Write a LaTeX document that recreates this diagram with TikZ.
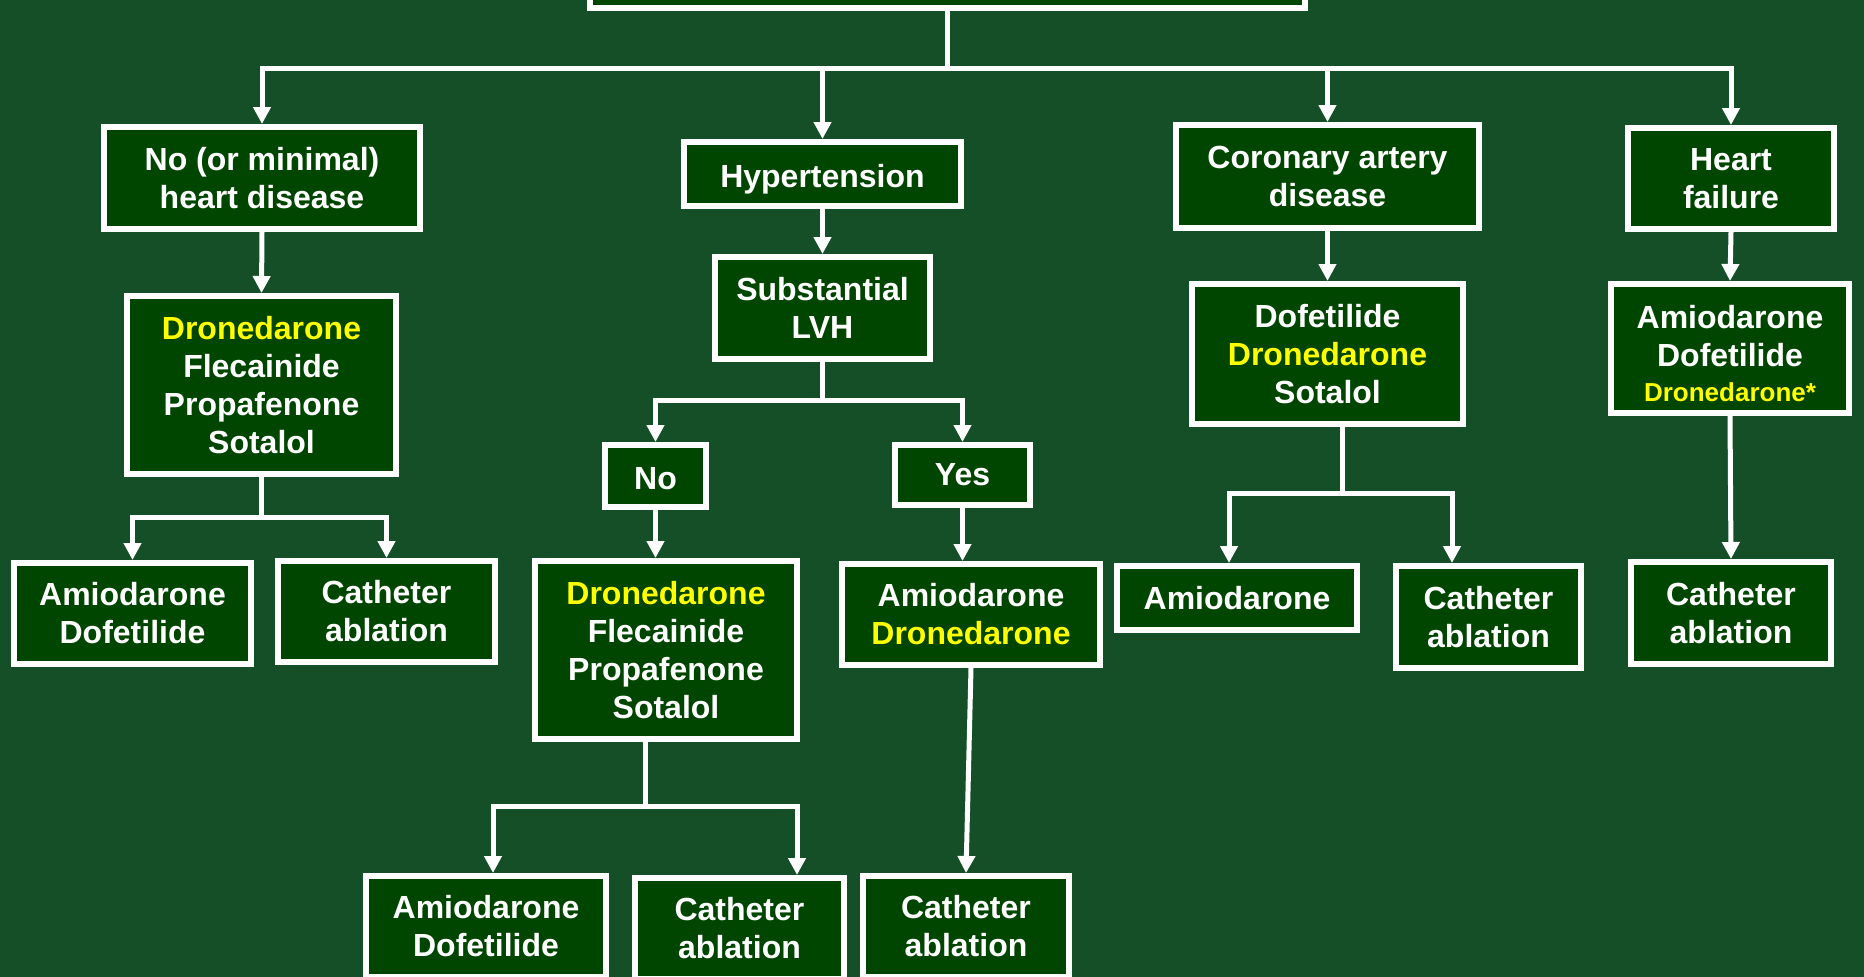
\documentclass[tikz,border=0pt]{standalone}
\usepackage{fontspec}
\setmainfont{Liberation Sans}
\usetikzlibrary{arrows.meta}
\definecolor{bg}{RGB}{20,79,40}
\definecolor{boxfill}{RGB}{0,70,0}
\definecolor{hl}{RGB}{255,255,0}
\tikzset{
  box/.style={draw=white, line width=6pt, fill=boxfill, text=white,
    font=\fontsize{32}{38}\selectfont\bfseries, align=center, inner sep=0pt},
  arr/.style={draw=white, line width=5pt, -{Triangle[width=17pt,length=17pt]}},
  ln/.style={draw=white, line width=5pt},
}
\begin{document}
\begin{tikzpicture}[x=1pt,y=-1pt]
\useasboundingbox (0,0) rectangle (1864,977);
\clip (0,0) rectangle (1864,977);
\fill[bg] (0,0) rectangle (1864,977);
% nodes
\node[box, minimum width=715pt, minimum height=96pt] (top) at (947.5,-40) {};
\node[box, minimum width=316pt, minimum height=102pt] (b1) at (262,178) {No (or minimal)\\heart disease};
\node[box, minimum width=277pt, minimum height=64pt] (hyp) at (822.5,174) {\rule{0pt}{33pt}Hypertension};
\node[box, minimum width=303pt, minimum height=103pt] (cad) at (1327.5,176.5) {Coronary artery\\disease};
\node[box, minimum width=206pt, minimum height=101pt] (hf) at (1731,178.5) {Heart\\failure};
\node[box, minimum width=269pt, minimum height=178pt] (d1) at (261.5,385) {\textcolor{hl}{Dronedarone}\\Flecainide\\Propafenone\\Sotalol};
\node[box, minimum width=215pt, minimum height=102pt] (lvh) at (822.5,308) {Substantial\\LVH};
\node[box, minimum width=271pt, minimum height=140pt] (dof) at (1327.5,354) {Dofetilide\\\textcolor{hl}{Dronedarone}\\Sotalol};
\node[box, minimum width=238pt, minimum height=129pt] (hfd) at (1730,348.5) {\rule{0pt}{33pt}Amiodarone\\Dofetilide\\[-3pt]{\fontsize{26}{30}\selectfont\textcolor{hl}{Dronedarone*}}};
\node[box, minimum width=101pt, minimum height=62pt] (no) at (655.5,476) {\rule{0pt}{28pt}No};
\node[box, minimum width=135pt, minimum height=60pt] (yes) at (962.5,475) {Yes};
\node[box, minimum width=237pt, minimum height=101pt] (a1) at (132.5,613.5) {Amiodarone\\Dofetilide};
\node[box, minimum width=217pt, minimum height=101pt] (c1) at (386.5,611.5) {Catheter\\ablation};
\node[box, minimum width=262pt, minimum height=178pt] (d2) at (666,650) {\textcolor{hl}{Dronedarone}\\Flecainide\\Propafenone\\Sotalol};
\node[box, minimum width=258pt, minimum height=101pt] (ad) at (971,614.5) {Amiodarone\\\textcolor{hl}{Dronedarone}};
\node[box, minimum width=240pt, minimum height=64pt] (am3) at (1237,598) {Amiodarone};
\node[box, minimum width=185pt, minimum height=102pt] (c4) at (1488.5,617) {Catheter\\ablation};
\node[box, minimum width=200pt, minimum height=102pt] (c5) at (1731,613) {Catheter\\ablation};
\node[box, minimum width=240pt, minimum height=101pt] (a2) at (486,926.5) {Amiodarone\\Dofetilide};
\node[box, minimum width=209pt, minimum height=101pt] (c2) at (739.5,928.5) {Catheter\\ablation};
\node[box, minimum width=206pt, minimum height=101pt] (c3) at (966,926.5) {Catheter\\ablation};
% junction coordinates
\coordinate (j0) at (947.5,68);
\coordinate (j1) at (261.5,517);
\coordinate (j2) at (822.5,400);
\coordinate (j3) at (645,806);
\coordinate (t3a) at (493,0);
\coordinate (t3b) at (797,0);
\coordinate (j4) at (1342,493);
\coordinate (t4a) at (1229,0);
\coordinate (t4b) at (1452,0);
% connectors
\draw[arr] (top.south) -- (j0) -| (b1.north);
\draw[arr] (top.south) -- (j0) -| (hyp.north);
\draw[arr] (top.south) -- (j0) -| (cad.north);
\draw[arr] (top.south) -- (j0) -| (hf.north);
\draw[arr] (b1.south) -- (d1.north);
\draw[arr] (hyp.south) -- (lvh.north);
\draw[arr] (cad.south) -- (dof.north);
\draw[arr] (hf.south) -- (hfd.north);
\draw[arr] (d1.south) -- (j1) -| (a1.north);
\draw[arr] (d1.south) -- (j1) -| (c1.north);
\draw[arr] (lvh.south) -- (j2) -| (no.north);
\draw[arr] (lvh.south) -- (j2) -| (yes.north);
\draw[arr] (no.south) -- (no.south |- d2.north);
\draw[arr] (yes.south) -- (yes.south |- ad.north);
\draw[ln] (d2.south -| j3) -- (j3);
\draw[arr] (j3) -| (t3a |- a2.north);
\draw[arr] (j3) -| (t3b |- c2.north);
\draw[arr] (ad.south) -- (c3.north);
\draw[ln] (dof.south -| j4) -- (j4);
\draw[arr] (j4) -| (t4a |- am3.north);
\draw[arr] (j4) -| (t4b |- c4.north);
\draw[arr] (hfd.south) -- (c5.north);
\end{tikzpicture}
\end{document}
